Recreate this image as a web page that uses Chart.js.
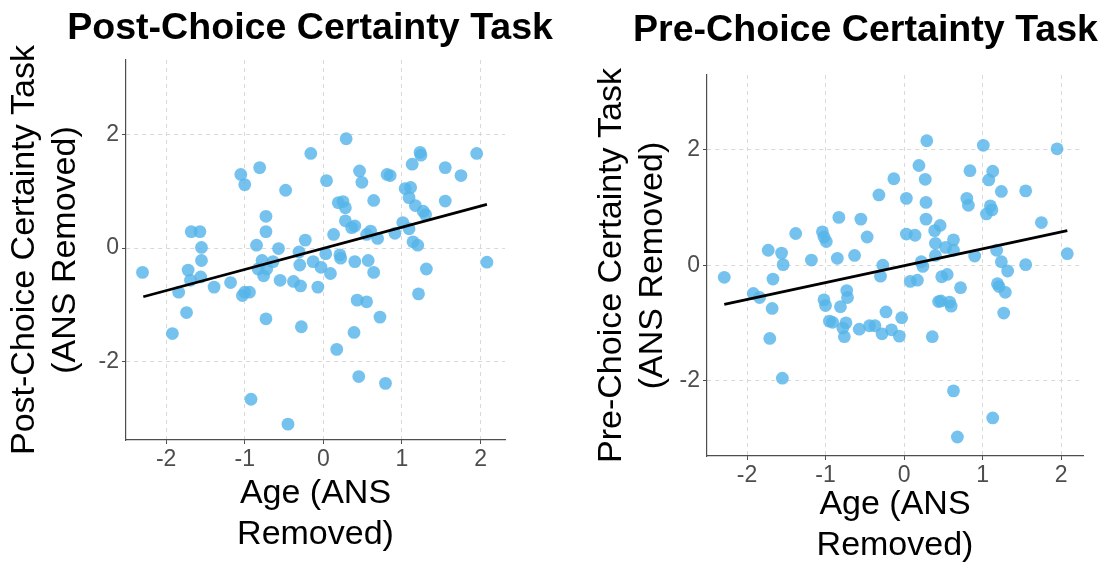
<!DOCTYPE html>
<html>
<head>
<meta charset="utf-8">
<script src="https://cdn.jsdelivr.net/npm/chart.js@4.4.0/dist/chart.umd.min.js"></script>
<style>
  html, body { margin: 0; padding: 0; background: #fff; overflow: hidden; }
  .panel { position: absolute; top: 0; }
  #leftPanel { left: 0; }
  #rightPanel { left: 560px; }
</style>
</head>
<body>
<div class="panel" id="leftPanel"><canvas id="postChart" width="560" height="569"></canvas></div>
<div class="panel" id="rightPanel"><canvas id="preChart" width="546" height="569"></canvas></div>
<script>
// ---- data ----
const xTicks = [-2, -1, 0, 1, 2];
const yTicks = [-2, 0, 2];

// Post-choice panel: age residual vs certainty residual
const postAge = [
  -2.30, -1.92, -1.84, -1.74, -1.72, -1.68, -1.69, -1.57, -1.55, -1.55,
  -1.56, -1.39, -1.18, -1.05, -1.00, -1.03, -1.00, -0.94, -0.92, -0.81,
  -0.85, -0.78, -0.83, -0.76, -0.73, -0.73, -0.73, -0.72, -0.64, -0.57,
  -0.55, -0.48, -0.45, -0.38, -0.31, -0.30, -0.29, -0.28, -0.23, -0.16,
  -0.13, -0.07, -0.03, 0.03, 0.04, 0.09, 0.13, 0.17, 0.19, 0.21,
  0.22, 0.25, 0.29, 0.28, 0.28, 0.36, 0.40, 0.40, 0.39, 0.43,
  0.45, 0.46, 0.49, 0.55, 0.57, 0.55, 0.60, 0.64, 0.64, 0.69,
  0.72, 0.79, 0.81, 0.85, 0.91, 1.01, 1.04, 1.11, 1.09, 1.09,
  1.13, 1.14, 1.17, 1.20, 1.21, 1.23, 1.24, 1.27, 1.30, 1.31,
  1.55, 1.55, 1.75, 1.95, 2.08
];
const postCertainty = [
  -0.43, -1.51, -0.78, -1.14, -0.39, 0.29, -0.57, 0.29, 0.01, -0.22,
  -0.51, -0.69, -0.61, 1.30, 1.12, -0.84, -0.78, -0.78, -2.67, 1.42,
  0.05, -0.22, -0.37, -0.49, 0.56, 0.29, -1.25, -0.37, -0.24, -0.01,
  -0.57, 1.02, -3.11, -0.59, -0.07, -0.30, -0.67, -1.39, 0.14, 1.67,
  -0.24, -0.69, -0.34, -0.10, 1.19, -0.45, 0.24, -1.79, 0.80, -0.12,
  -0.18, 0.82, 1.93, 0.71, 0.48, 0.36, 0.39, -0.24, -1.49, -0.92,
  -2.27, 1.36, 1.16, 0.24, -0.22, -0.95, 0.30, 0.84, -0.43, 0.17,
  -1.22, -2.39, 1.30, 1.28, 0.26, 0.45, 1.05, 1.07, 0.34, 0.89,
  1.48, 0.11, 0.75, 0.05, -0.81, 1.69, 1.64, 0.65, 0.59, -0.37,
  1.42, 0.83, 1.28, 1.67, -0.25
];

// Pre-choice panel
const preAge = [
  -2.29, -1.92, -1.84, -1.73, -1.71, -1.68, -1.67, -1.56, -1.54, -1.55,
  -1.38, -1.18, -1.04, -1.02, -0.99, -1.02, -1.00, -0.95, -0.91, -0.85,
  -0.83, -0.81, -0.78, -0.76, -0.74, -0.73, -0.72, -0.63, -0.57, -0.55,
  -0.47, -0.44, -0.37, -0.32, -0.30, -0.28, -0.27, -0.23, -0.16, -0.13,
  -0.06, -0.03, 0.03, 0.03, 0.08, 0.14, 0.17, 0.19, 0.22, 0.24,
  0.27, 0.29, 0.28, 0.28, 0.36, 0.39, 0.46, 0.40, 0.40, 0.48,
  0.55, 0.44, 0.47, 0.58, 0.60, 0.53, 0.63, 0.63, 0.63, 0.68,
  0.72, 0.80, 0.82, 0.84, 0.90, 1.01, 1.05, 1.08, 1.10, 1.12,
  1.13, 1.13, 1.18, 1.19, 1.21, 1.24, 1.24, 1.27, 1.29, 1.32,
  1.55, 1.55, 1.75, 1.95, 2.08
];
const preCertainty = [
  -0.21, -0.49, -0.56, 0.26, -1.27, -0.75, -0.24, 0.21, 0.01, -1.96,
  0.55, 0.09, 0.58, 0.49, 0.41, -0.60, -0.70, -0.97, -0.99, 0.12,
  0.83, -0.72, -1.09, -1.24, -1.00, -0.44, -0.56, 0.17, -1.11, 0.80,
  0.49, -1.05, -1.05, 1.22, -0.19, -1.19, 0.00, -0.81, -1.12, 1.50,
  -1.23, -0.91, 1.16, 0.54, -0.28, 0.52, -0.26, 1.73, 0.06, -0.02,
  1.49, 2.16, 1.09, 0.80, -1.24, 0.60, 0.69, 0.38, 0.17, -0.20,
  -0.16, -0.63, -0.62, -0.64, -0.71, 0.31, 0.44, 0.26, -2.18, -2.98,
  -0.39, 1.16, 1.04, 1.64, 0.16, 2.08, 0.89, 1.48, 1.03, 0.96,
  1.63, -2.65, 0.26, -0.32, -0.37, 0.06, 1.28, -0.83, -0.47, -0.10,
  1.29, 0.01, 0.74, 2.02, 0.20
];

// fitted regression lines (end points)
const fitAge = [-2.29, 2.08];
const postFit = [-0.86, 0.77];
const preFit = [-0.68, 0.60];

// ---- shared styling ----
const FONT = "'Liberation Sans', Arial, Helvetica, sans-serif";
Chart.defaults.font.family = FONT;

const pointColor = 'rgba(86, 180, 233, 0.82)';
const gridColor = '#d9d9d9';
const axisColor = '#4d4d4d';

function toPoints(xs, ys) {
  return xs.map((x, i) => ({ x: x, y: ys[i] }));
}

function makePanel(canvasId, cfg) {
  const ctx = document.getElementById(canvasId).getContext('2d');
  return new Chart(ctx, {
    type: 'scatter',
    data: {
      datasets: [
        {
          type: 'line',
          label: 'fit',
          data: toPoints(fitAge, cfg.fit),
          borderColor: '#000',
          borderWidth: 2.8,
          pointRadius: 0,
          fill: false,
          order: 0
        },
        {
          label: 'points',
          data: toPoints(cfg.age, cfg.certainty),
          backgroundColor: pointColor,
          borderWidth: 0,
          pointRadius: 6.4,
          order: 1
        }
      ]
    },
    options: {
      responsive: false,
      animation: false,
      events: [],
      layout: { padding: { left: 0, right: cfg.padRight, top: 0, bottom: 0 } },
      plugins: {
        legend: { display: false },
        tooltip: { enabled: false },
        title: {
          display: true,
          text: cfg.title,
          align: 'end',
          color: '#000',
          font: { size: 37.6, weight: 'bold' },
          padding: { top: cfg.titleTop, bottom: cfg.titleBottom }
        }
      },
      scales: {
        x: {
          type: 'linear',
          min: cfg.xMin, max: cfg.xMax,
          afterBuildTicks: s => { s.ticks = xTicks.map(v => ({ value: v })); },
          afterFit: s => { s.height = cfg.xAxisHeight; },
          grid: { color: gridColor, lineWidth: 1, tickLength: 4, tickColor: axisColor, tickBorderDash: [] },
          border: { display: true, color: axisColor, width: 1.2, dash: [4, 4] },
          ticks: { color: axisColor, font: { size: 23 }, padding: 2, maxRotation: 0 },
          title: {
            display: true,
            text: ['Age (ANS', 'Removed)'],
            color: '#000',
            font: { size: 34 },
            padding: { top: 0, bottom: cfg.xTitleBottom }
          }
        },
        y: {
          type: 'linear',
          min: cfg.yMin, max: cfg.yMax,
          afterBuildTicks: s => { s.ticks = yTicks.map(v => ({ value: v })); },
          afterFit: s => { s.width = cfg.yAxisWidth; },
          grid: { color: gridColor, lineWidth: 1, tickLength: 4, tickColor: axisColor, tickBorderDash: [] },
          border: { display: true, color: axisColor, width: 1.2, dash: [4, 4] },
          ticks: { color: axisColor, font: { size: 23 }, padding: 3 },
          title: {
            display: true,
            text: cfg.yTitle,
            color: '#000',
            font: { size: 34 },
            padding: { top: cfg.yTitleTop, bottom: 0 }
          }
        },
        // empty right-hand spacer so the panel ends where the original does
        spacer: {
          type: 'linear',
          position: 'right',
          grid: { display: false },
          border: { display: false },
          ticks: { display: false },
          afterFit: s => { s.width = cfg.spacer; }
        }
      }
    }
  });
}

makePanel('postChart', {
  title: 'Post-Choice Certainty Task',
  yTitle: ['Post-Choice Certainty Task', '(ANS Removed)'],
  age: postAge, certainty: postCertainty, fit: postFit,
  xMin: -2.51, xMax: 2.31, yMin: -3.39, yMax: 3.32,
  padRight: 7, spacer: 48,
  titleTop: 6, titleBottom: 8.9,
  xAxisHeight: 129, xTitleBottom: 14,
  yAxisWidth: 126, yTitleTop: 4
});

makePanel('preChart', {
  title: 'Pre-Choice Certainty Task',
  yTitle: ['Pre-Choice Certainty Task', '(ANS Removed)'],
  age: preAge, certainty: preCertainty, fit: preFit,
  xMin: -2.51, xMax: 2.28, yMin: -3.31, yMax: 3.30,
  padRight: 8, spacer: 15,
  titleTop: 8, titleBottom: 21.9,
  xAxisHeight: 113, xTitleBottom: 3,
  yAxisWidth: 147, yTitleTop: 31.6
});
</script>
</body>
</html>
